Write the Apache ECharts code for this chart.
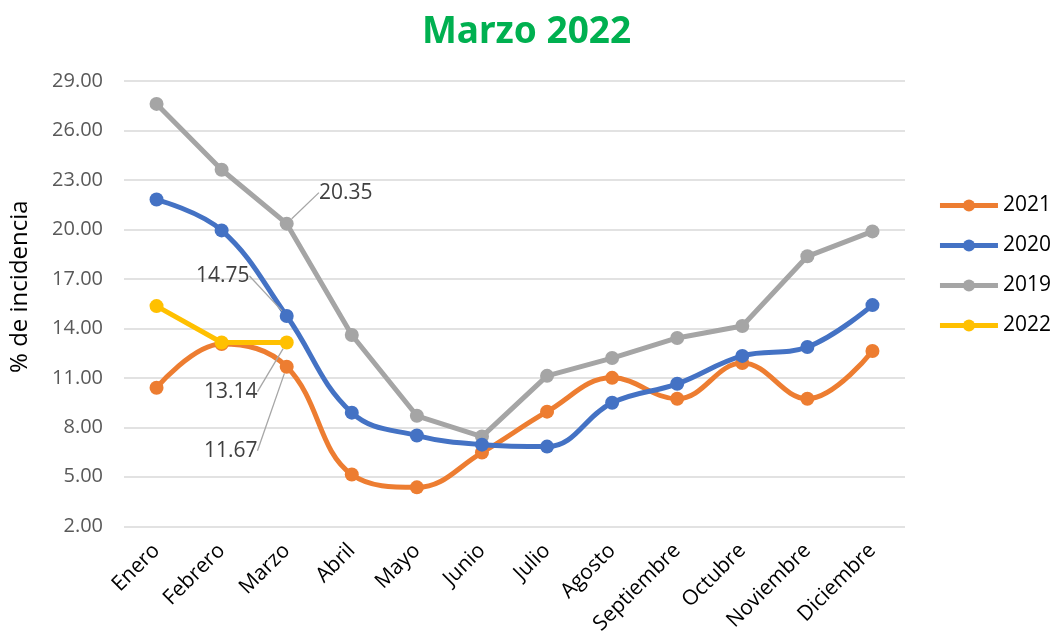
<!DOCTYPE html>
<html><head><meta charset="utf-8">
<script src="https://cdn.jsdelivr.net/npm/echarts@6/dist/echarts.min.js"></script>
<style>html,body{margin:0;padding:0;background:#fff}#c{width:1053px;height:637px}</style>
</head><body><div id="c"></div>
<script>
const months = ['Enero','Febrero','Marzo','Abril','Mayo','Junio','Julio','Agosto','Septiembre','Octubre','Noviembre','Diciembre'];
const s2021 = [10.40, 13.05, 11.67, 5.14, 4.36, 6.47, 8.95, 11.00, 9.73, 11.90, 9.73, 12.63];
const s2020 = [21.81, 19.94, 14.75, 8.89, 7.50, 6.95, 6.83, 9.49, 10.64, 12.33, 12.87, 15.41];
const s2019 = [27.61, 23.62, 20.35, 13.60, 8.70, 7.44, 11.12, 12.20, 13.42, 14.14, 18.37, 19.88];
const s2022 = [15.35, 13.14, 13.14];
const yTicks = [2, 5, 8, 11, 14, 17, 20, 23, 26, 29];
const labelIndex = 2;

const F = '"Open Sans", sans-serif';
function ser(name, data, color, smooth, z, dx, dy) {
  return {name, type: 'line', smooth: smooth ? 0.4 : false, symbol: 'circle', symbolSize: 14, z: z,
    data: data.map((v, i) => i === labelIndex ? {value: v, label: {show: true}} : v),
    itemStyle: {color}, lineStyle: {color, width: 5},
    label: {show: false, position: 'inside', formatter: p => p.value.toFixed(2), color: '#404040', fontSize: 21, fontFamily: F},
    labelLine: {show: true, lineStyle: {color: '#a6a6a6', width: 1.3}},
    labelLayout: p => p.dataIndex === labelIndex ? {dx: dx, dy: dy} : {}
  };
}
const chart = echarts.init(document.getElementById('c'));
chart.setOption({
  animation: false,
  title: {text: 'Marzo 2022', left: 'center', top: 9, textStyle: {color: '#00b050', fontSize: 37, fontWeight: 'bold', fontFamily: '"Noto Sans", sans-serif'}},
  grid: {left: 122, right: 148, top: 81, bottom: 109},
  legend: {orient: 'vertical', right: -3, top: 190, itemGap: 19, itemWidth: 58, itemHeight: 15,
    lineStyle: {width: 5},
    textStyle: {fontSize: 21, color: '#000', fontFamily: F},
    data: ['2021','2020','2019','2022']},
  xAxis: {type: 'category', data: months, boundaryGap: true,
    axisLine: {show: false}, axisTick: {show: false},
    axisLabel: {rotate: 45, fontSize: 21, color: '#000', fontFamily: F, margin: 21, interval: 0}},
  yAxis: {type: 'value', min: yTicks[0], max: yTicks[yTicks.length-1], interval: 3,
    name: '% de incidencia', nameLocation: 'middle', nameGap: 92, nameRotate: 90,
    nameTextStyle: {fontSize: 24, color: '#000', fontFamily: F, padding: [0, 0, 0, 34]},
    axisLine: {show: false}, axisTick: {show: false},
    axisLabel: {formatter: v => v.toFixed(2), fontSize: 20, color: '#595959', fontFamily: F, margin: 21},
    splitLine: {lineStyle: {color: '#d9d9d9', width: 1.5}}},
  series: [
    ser('2021', s2021, '#ed7d31', true, 3, -56, 84),
    ser('2020', s2020, '#4472c4', true, 4, -64, -40),
    ser('2019', s2019, '#a5a5a5', false, 2, 59, -31),
    ser('2022', s2022, '#ffc000', false, 5, -56, 49)
  ]
});
</script></body></html>
